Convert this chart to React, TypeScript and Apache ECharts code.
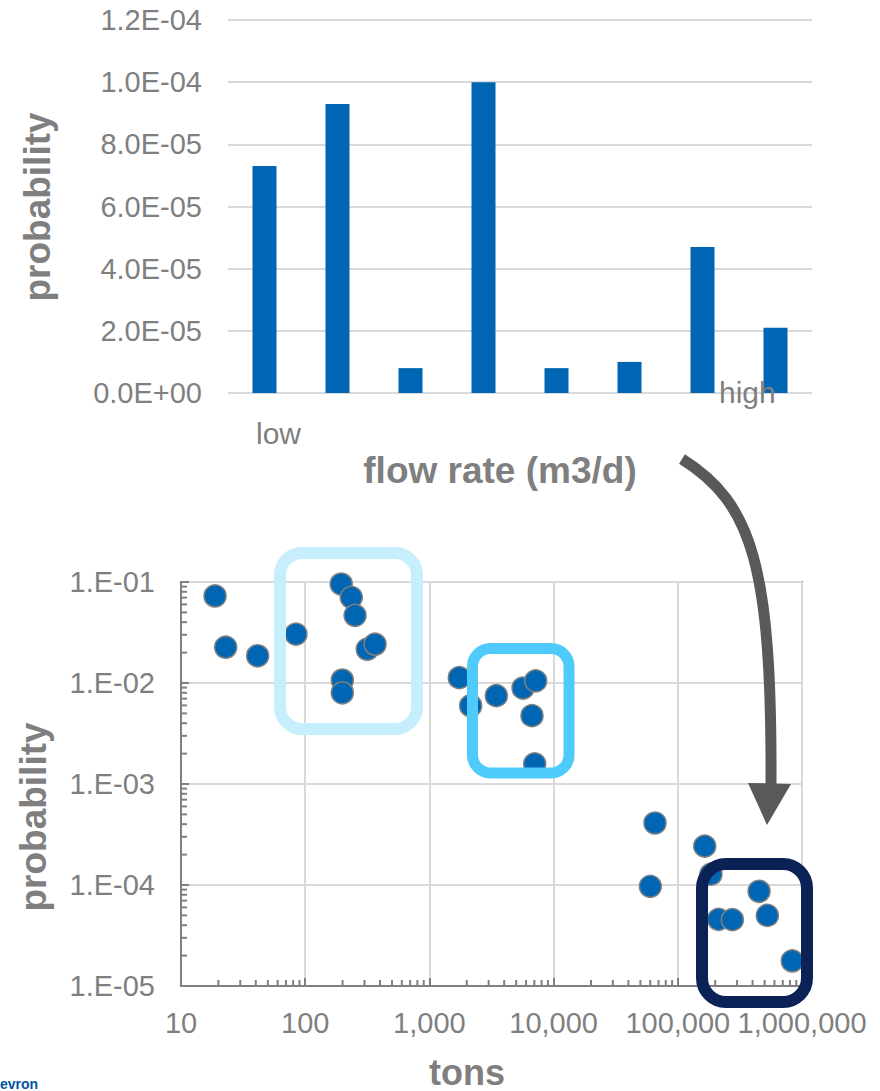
import React, { useEffect, useRef } from 'react';
import * as echarts from 'echarts';

// ---- Top chart: probability by flow-rate class ----
const flowClasses = ['c1', 'c2', 'c3', 'c4', 'c5', 'c6', 'c7', 'c8'];
const flowProbability = [7.3e-5, 9.3e-5, 8.0e-6, 1.0e-4, 8.0e-6, 1.0e-5, 4.7e-5, 2.1e-5];
const flowLowLabel = 'low';
const flowHighLabel = 'high';

// ---- Bottom chart: spill size (tons) vs probability ----
const spillTons = [
  18.8, 22.9, 41.4, 84.3, 195, 235, 252, 316, 365, 199, 199,
  1741, 2149, 3459, 5673, 7175, 6700, 7044,
  65500, 60100, 164800, 185000, 451000, 213000, 275000, 526000, 835000,
];
const spillProbability = [
  0.0727, 0.0226, 0.0186, 0.0305, 0.0955, 0.0705, 0.0468, 0.0216, 0.0242, 0.0107, 0.008,
  0.0113, 0.00596, 0.00749, 0.00892, 0.0105, 0.00475, 0.00158,
  0.000411, 0.000097, 0.000243, 0.000128, 0.0000867, 0.0000457, 0.0000454, 0.00005, 0.0000177,
];

// minor log-tick positions (axis decoration)
const minorDigits = [2, 3, 4, 5, 6, 7, 8, 9];
const xDecades = [10, 100, 1000, 10000, 100000];
const yDecades = [0.00001, 0.0001, 0.001, 0.01];

const GRAY = '#7f7f7f';
const FONT = '"Liberation Sans", Arial, Helvetica, sans-serif';

function sciLabel(v: number): string {
  if (v === 0) return '0.0E+00';
  const s = v.toExponential(1);
  const [m, e] = s.split('e');
  const n = parseInt(e, 10);
  return m + 'E' + (n < 0 ? '-' : '+') + String(Math.abs(n)).padStart(2, '0');
}

function logLabel(v: number): string {
  const n = Math.round(Math.log10(v));
  return '1.E' + (n < 0 ? '-' : '+') + String(Math.abs(n)).padStart(2, '0');
}

export default function App() {
  const ref = useRef<HTMLDivElement>(null);

  useEffect(() => {
    if (!ref.current) return;
    const chart = echarts.init(ref.current, null, { renderer: 'svg' });

    const yMinor: number[][] = [];
    yDecades.forEach((d) => minorDigits.forEach((m) => yMinor.push([10, d * m])));
    const xMinor: number[][] = [];
    xDecades.forEach((d) => minorDigits.forEach((m) => xMinor.push([d * m, 0.00001])));

    const scatterData = spillTons.map((t, i) => [t, spillProbability[i]]);

    const option: any = {
      animation: false,
      backgroundColor: '#ffffff',
      textStyle: { fontFamily: FONT },
      grid: [
        { left: 228, top: 20, width: 584, height: 373 },
        {
          left: 181, top: 582, width: 621, height: 404,
          show: true, borderColor: '#808080', borderWidth: 2, backgroundColor: 'transparent',
        },
      ],
      xAxis: [
        {
          type: 'category', gridIndex: 0, data: flowClasses,
          axisLine: { show: false }, axisTick: { show: false }, axisLabel: { show: false },
        },
        {
          type: 'log', gridIndex: 1, logBase: 10, min: 10, max: 1000000, splitNumber: 5,
          axisLine: { show: true, lineStyle: { color: '#808080', width: 2 } },
          axisTick: { show: true, inside: true, length: 8, lineStyle: { color: '#808080', width: 2 } },
          splitLine: { show: true, lineStyle: { color: '#d9d9d9', width: 2 } },
          axisLabel: {
            color: GRAY, fontSize: 29, margin: 22, fontFamily: FONT,
            showMinLabel: true, showMaxLabel: true,
            formatter: (v: number) => Math.round(v).toLocaleString('en-US'),
          },
        },
      ],
      yAxis: [
        {
          type: 'value', gridIndex: 0, min: 0, max: 1.2e-4, interval: 2e-5,
          axisLine: { show: false }, axisTick: { show: false },
          splitLine: { show: true, lineStyle: { color: '#d9d9d9', width: 2 } },
          axisLabel: { color: GRAY, fontSize: 29, margin: 26, fontFamily: FONT, formatter: sciLabel },
        },
        {
          type: 'log', gridIndex: 1, logBase: 10, min: 0.00001, max: 0.1, splitNumber: 4,
          axisLine: { show: true, lineStyle: { color: '#808080', width: 2 } },
          axisTick: { show: true, inside: true, length: 8, lineStyle: { color: '#808080', width: 2 } },
          splitLine: { show: true, lineStyle: { color: '#d9d9d9', width: 2 } },
          axisLabel: {
            color: GRAY, fontSize: 29, margin: 26, fontFamily: FONT,
            showMinLabel: true, showMaxLabel: true, formatter: logLabel,
          },
        },
      ],
      series: [
        {
          type: 'bar', xAxisIndex: 0, yAxisIndex: 0, data: flowProbability,
          barWidth: 24, itemStyle: { color: '#0066b3' }, silent: true,
        },
        {
          type: 'custom', xAxisIndex: 1, yAxisIndex: 1, data: yMinor, silent: true, z: 3,
          renderItem: (_p: any, api: any) => {
            const pt = api.coord([api.value(0), api.value(1)]);
            return {
              type: 'line',
              shape: { x1: pt[0], y1: pt[1], x2: pt[0] + 6, y2: pt[1] },
              style: { stroke: '#808080', lineWidth: 2 },
            };
          },
        },
        {
          type: 'custom', xAxisIndex: 1, yAxisIndex: 1, data: xMinor, silent: true, z: 3,
          renderItem: (_p: any, api: any) => {
            const pt = api.coord([api.value(0), api.value(1)]);
            return {
              type: 'line',
              shape: { x1: pt[0], y1: pt[1], x2: pt[0], y2: pt[1] - 6 },
              style: { stroke: '#808080', lineWidth: 2 },
            };
          },
        },
        {
          type: 'scatter', xAxisIndex: 1, yAxisIndex: 1, data: scatterData,
          symbol: 'circle', symbolSize: 22, silent: true, z: 5,
          itemStyle: { color: '#0066b3', borderColor: '#808080', borderWidth: 1.5, opacity: 1 },
        },
      ],
      graphic: [
        // axis titles and category end labels
        {
          type: 'text', x: 37, y: 207, rotation: Math.PI / 2, z: 50,
          style: { text: 'probability', fill: GRAY, font: `bold 37px ${FONT}`, align: 'center', verticalAlign: 'middle' },
        },
        {
          type: 'text', x: 33, y: 817, rotation: Math.PI / 2, z: 50,
          style: { text: 'probability', fill: GRAY, font: `bold 37px ${FONT}`, align: 'center', verticalAlign: 'middle' },
        },
        {
          type: 'text', x: 500, y: 470, z: 50,
          style: { text: 'flow rate (m3/d)', fill: GRAY, font: `bold 37px ${FONT}`, align: 'center', verticalAlign: 'middle' },
        },
        {
          type: 'text', x: 467, y: 1072, z: 50,
          style: { text: 'tons', fill: GRAY, font: `bold 36px ${FONT}`, align: 'center', verticalAlign: 'middle' },
        },
        {
          type: 'text', x: 256, y: 433, z: 50,
          style: { text: flowLowLabel, fill: GRAY, font: `30px ${FONT}`, align: 'left', verticalAlign: 'middle' },
        },
        {
          type: 'text', x: 719, y: 392, z: 50,
          style: { text: flowHighLabel, fill: GRAY, font: `30px ${FONT}`, align: 'left', verticalAlign: 'middle' },
        },
        // highlight boxes
        {
          type: 'rect', z: 60,
          shape: { x: 280, y: 553, width: 137, height: 176, r: 22 },
          style: { fill: 'none', stroke: '#c7eefc', lineWidth: 12 },
        },
        {
          type: 'rect', z: 60,
          shape: { x: 472.5, y: 648.5, width: 96.5, height: 124.5, r: 18 },
          style: { fill: 'none', stroke: '#4fcbfb', lineWidth: 11 },
        },
        {
          type: 'rect', z: 60,
          shape: { x: 702, y: 864, width: 105, height: 138, r: 24 },
          style: { fill: 'none', stroke: '#0b2257', lineWidth: 12 },
        },
        // curved arrow
        {
          type: 'bezierCurve', z: 60,
          shape: { x1: 682, y1: 459, cpx1: 752, cpy1: 503, cpx2: 772, cpy2: 565, x2: 771, y2: 786 },
          style: { fill: 'none', stroke: '#595959', lineWidth: 11 },
        },
        {
          type: 'polygon', z: 60,
          shape: { points: [[748, 783], [791, 784], [767, 825]] },
          style: { fill: '#595959' },
        },
        // logo text at the bottom-left corner
        {
          type: 'text', x: 0, y: 1091, z: 50,
          style: { text: 'evron', fill: '#0054a6', font: `bold 14px ${FONT}`, align: 'left', verticalAlign: 'bottom' },
        },
      ],
    };

    chart.setOption(option);
    return () => chart.dispose();
  }, []);

  return (
    <div
      ref={ref}
      style={{ position: 'fixed', left: 0, top: 0, width: 880, height: 1091, background: '#fff' }}
    />
  );
}
